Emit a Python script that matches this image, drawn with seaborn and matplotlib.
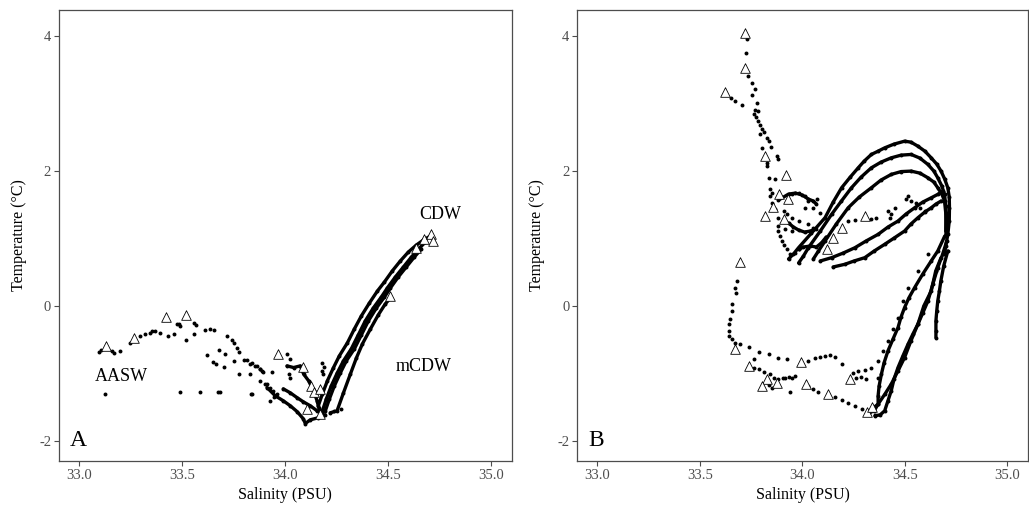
import matplotlib
matplotlib.use("Agg")
import matplotlib.pyplot as plt
import seaborn as sns
import pandas as pd

# ---------------- Panel A data (Salinity PSU, Temperature degC) ----------------
A_tri_S = [33.13, 33.267, 33.419, 33.519, 33.963, 34.086, 34.125, 34.141, 34.167, 34.105, 34.167,
           34.510, 34.636, 34.671, 34.707, 34.717]
A_tri_T = [-0.59, -0.47, -0.17, -0.14, -0.72, -0.90, -1.19, -1.27, -1.23, -1.53, -1.60,
           0.15, 0.86, 0.99, 1.06, 0.97]

A_sparse = [(33.094, -0.677), (33.105, -0.656), (33.159, -0.667), (33.167, -0.70), (33.196, -0.667),
            (33.248, -0.544), (33.353, -0.370), (33.393, -0.404), (33.429, -0.44), (33.458, -0.42),
            (33.555, -0.247), (33.568, -0.281), (33.555, -0.419), (33.519, -0.508), (33.612, -0.36),
            (33.636, -0.345), (33.655, -0.36), (33.717, -0.444), (33.741, -0.508), (33.752, -0.544),
            (33.766, -0.618), (33.773, -0.677), (33.798, -0.804), (33.830, -0.855), (33.854, -0.893),
            (33.879, -0.938), (33.892, -0.973), (33.935, -0.973), (33.911, -1.151), (33.927, -1.22),
            (33.940, -1.259), (33.960, -1.308), (33.620, -0.726), (33.649, -0.83), (33.665, -0.855),
            (33.676, -0.656), (33.709, -0.716), (33.704, -0.904), (33.749, -0.815), (33.773, -1.003),
            (33.830, -1.003), (33.879, -1.111), (33.903, -1.16), (33.838, -1.308), (33.124, -1.308),
            (33.487, -1.284), (33.587, -1.27), (33.671, -1.27), (33.681, -1.284), (34.008, -0.716),
            (34.024, -0.79), (33.833, -1.30), (33.296, -0.444), (33.320, -0.422), (33.345, -0.40),
            (33.369, -0.378), (33.474, -0.271), (33.482, -0.262), (33.490, -0.296), (33.814, -0.804),
            (33.838, -0.849), (33.863, -0.893), (33.879, -0.929), (33.887, -0.963), (34.178, -0.84),
            (34.186, -0.904), (34.178, -0.963), (34.184, -1.012), (33.943, -1.358), (33.927, -1.407),
            (34.024, -1.062), (34.016, -1.012), (34.238, -1.556), (34.272, -1.526)]

A_L1 = [(33.911, -1.210), (33.951, -1.333), (33.990, -1.407), (34.024, -1.481), (34.058, -1.570),
        (34.087, -1.674), (34.097, -1.744), (34.121, -1.689), (34.160, -1.659), (34.194, -1.615)]
A_L2 = [(33.990, -1.230), (34.024, -1.289), (34.058, -1.363), (34.087, -1.422), (34.121, -1.481),
        (34.154, -1.556), (34.180, -1.585)]
A_L3 = [(34.008, -0.889), (34.040, -0.914), (34.073, -0.889), (34.089, -1.012), (34.113, -1.111),
        (34.137, -1.259), (34.154, -1.407), (34.162, -1.507), (34.178, -1.604)]
A_R1 = [(34.194, -1.556), (34.214, -1.378), (34.238, -1.185), (34.267, -0.993), (34.296, -0.815),
        (34.335, -0.637), (34.369, -0.430), (34.403, -0.222), (34.442, -0.030), (34.481, 0.133),
        (34.510, 0.267), (34.548, 0.430), (34.587, 0.578), (34.626, 0.726), (34.660, 0.844)]
A_R2 = [(34.180, -1.556), (34.199, -1.378), (34.223, -1.185), (34.252, -0.993), (34.282, -0.815),
        (34.320, -0.637), (34.354, -0.430), (34.388, -0.222), (34.427, -0.030), (34.466, 0.133),
        (34.495, 0.267), (34.534, 0.430), (34.573, 0.578), (34.612, 0.726), (34.646, 0.844),
        (34.680, 0.948)]
A_R3 = [(34.160, -1.481), (34.180, -1.304), (34.204, -1.111), (34.233, -0.919), (34.262, -0.741),
        (34.301, -0.548), (34.335, -0.341), (34.369, -0.148), (34.408, 0.044), (34.447, 0.222),
        (34.481, 0.356), (34.519, 0.519), (34.558, 0.667), (34.597, 0.800), (34.636, 0.904),
        (34.670, 0.978), (34.704, 1.037)]
A_R4 = [(34.218, -1.585), (34.251, -1.556), (34.282, -1.289), (34.316, -1.007), (34.345, -0.770),
        (34.374, -0.563), (34.413, -0.341), (34.451, -0.133), (34.485, 0.030), (34.510, 0.119)]

# ---------------- Panel B data ----------------
B_tri_S = [33.722, 33.722, 33.621, 33.819, 33.919, 33.887, 33.929, 33.854, 33.819, 33.908, 34.304,
           34.194, 34.150, 34.118, 33.693, 33.673, 33.741, 33.827, 33.802, 33.875, 33.992, 34.016,
           34.123, 34.231, 34.317, 34.340]
B_tri_T = [4.049, 3.530, 3.175, 2.222, 1.941, 1.664, 1.585, 1.467, 1.333, 1.284, 1.333,
           1.160, 1.003, 0.840, 0.652, -0.641, -0.893, -1.077, -1.185, -1.136, -0.825, -1.160,
           -1.308, -1.077, -1.566, -1.492]

B_sparse = [(33.730, 3.966), (33.725, 3.753), (33.734, 3.407), (33.754, 3.308), (33.770, 3.225),
            (33.754, 3.136), (33.778, 3.012), (33.770, 2.914), (33.783, 2.889), (33.762, 2.840),
            (33.772, 2.800), (33.782, 2.741), (33.791, 2.681), (33.801, 2.622), (33.811, 2.578),
            (33.795, 2.544), (33.827, 2.493), (33.835, 2.444), (33.802, 2.345), (33.848, 2.356),
            (33.875, 2.222), (33.883, 2.173), (33.827, 2.123), (33.827, 2.074), (33.835, 1.901),
            (33.867, 1.877), (33.843, 1.729), (33.851, 1.679), (33.843, 1.630), (33.851, 1.530),
            (33.867, 1.433), (33.883, 1.308), (33.883, 1.185), (33.883, 1.111), (33.891, 1.037),
            (33.898, 0.963), (33.908, 0.904), (33.924, 0.840), (33.940, 0.775), (33.965, 0.790),
            (33.981, 0.840), (33.649, 3.086), (33.673, 3.047), (33.705, 2.988),
            (33.948, 1.664), (33.981, 1.679), (34.013, 1.630), (34.029, 1.556), (34.069, 1.581),
            (34.013, 1.456), (34.053, 1.447), (34.086, 1.382), (33.948, 1.308), (33.981, 1.259),
            (34.029, 1.210), (34.053, 1.160), (33.916, 1.136), (33.948, 1.111), (33.908, 1.407),
            (33.924, 1.358),
            (34.417, 1.407), (34.433, 1.358), (34.449, 1.456), (34.425, 1.308), (34.515, 1.630),
            (34.530, 1.556), (34.555, 1.530), (34.571, 1.456), (34.506, 1.581), (34.597, 1.407),
            (34.223, 1.259), (34.256, 1.270), (34.336, 1.284), (34.361, 1.308),
            (33.681, 0.370), (33.673, 0.271), (33.675, 0.193), (33.657, 0.025), (33.657, -0.074),
            (33.646, -0.193), (33.641, -0.271), (33.641, -0.370), (33.641, -0.444), (33.657, -0.493),
            (33.673, -0.544), (33.697, -0.567), (33.741, -0.607),
            (33.762, -0.790), (33.786, -0.681), (33.835, -0.716), (33.879, -0.770), (33.924, -0.790),
            (33.762, -0.914), (33.786, -0.938), (33.811, -0.973), (33.843, -1.003), (33.859, -1.062),
            (33.883, -1.086), (33.903, -1.067), (33.916, -1.062), (33.932, -1.052), (33.948, -1.071),
            (33.965, -1.037), (33.851, -1.210), (33.940, -1.284), (33.826, -1.126), (33.835, -1.170),
            (34.029, -1.185), (34.053, -1.234), (34.078, -1.270), (34.126, -1.308), (34.159, -1.358),
            (34.191, -1.397), (34.223, -1.447), (34.256, -1.481), (34.288, -1.530), (34.320, -1.581),
            (34.353, -1.615),
            (34.029, -0.815), (34.061, -0.775), (34.086, -0.756), (34.110, -0.741), (34.134, -0.730),
            (34.159, -0.756), (34.191, -0.864),
            (34.262, -1.067), (34.286, -1.052), (34.312, -1.086), (34.369, -1.062),
            (34.612, 0.766), (34.563, 0.519), (34.515, 0.271), (34.490, 0.074), (34.466, -0.173),
            (34.442, -0.341), (34.417, -0.519), (34.393, -0.667), (34.369, -0.815), (34.336, -0.914),
            (34.304, -0.953), (34.272, -0.963), (34.248, -0.988)]

B_O1 = [(33.932, 0.696), (33.956, 0.770), (33.981, 0.864), (34.044, 1.081), (34.110, 1.308),
        (34.150, 1.541), (34.191, 1.753), (34.233, 1.911), (34.272, 2.049), (34.301, 2.148),
        (34.336, 2.247), (34.369, 2.296), (34.401, 2.345), (34.446, 2.400), (34.498, 2.444),
        (34.529, 2.430), (34.563, 2.370), (34.597, 2.296), (34.628, 2.197), (34.655, 2.104),
        (34.676, 2.000), (34.694, 1.881), (34.709, 1.753), (34.716, 1.615), (34.717, 1.456),
        (34.716, 1.259), (34.709, 1.062), (34.699, 0.889), (34.693, 0.766)]
B_O2 = [(33.981, 0.637), (34.005, 0.741), (34.029, 0.864), (34.087, 1.111), (34.142, 1.358),
        (34.190, 1.556), (34.239, 1.753), (34.286, 1.911), (34.336, 2.049), (34.383, 2.133),
        (34.433, 2.197), (34.481, 2.237), (34.530, 2.247), (34.573, 2.193), (34.612, 2.099),
        (34.641, 2.000), (34.660, 1.901), (34.680, 1.778), (34.693, 1.655), (34.699, 1.481),
        (34.704, 1.259), (34.699, 1.037)]
B_O3 = [(34.053, 0.696), (34.078, 0.815), (34.110, 0.963), (34.165, 1.215), (34.223, 1.456),
        (34.277, 1.615), (34.336, 1.753), (34.383, 1.867), (34.433, 1.951), (34.481, 1.993),
        (34.530, 2.000), (34.573, 1.970), (34.612, 1.901), (34.641, 1.837), (34.660, 1.753),
        (34.680, 1.659), (34.693, 1.556), (34.699, 1.378), (34.699, 1.111)]
B_L4 = [(34.087, 0.667), (34.142, 0.716), (34.199, 0.785), (34.256, 0.864), (34.310, 0.963),
        (34.369, 1.062), (34.417, 1.170), (34.466, 1.259), (34.505, 1.363), (34.547, 1.456),
        (34.587, 1.541), (34.628, 1.604), (34.660, 1.655), (34.684, 1.704)]
B_L5 = [(34.150, 0.578), (34.207, 0.618), (34.252, 0.667), (34.304, 0.716), (34.350, 0.815),
        (34.401, 0.914), (34.447, 1.007), (34.498, 1.111), (34.529, 1.215), (34.563, 1.308),
        (34.597, 1.393), (34.628, 1.456), (34.651, 1.511), (34.676, 1.556)]
B_C1 = [(33.883, 1.570), (33.932, 1.659), (33.966, 1.674), (34.000, 1.644), (34.029, 1.585),
        (34.053, 1.556), (34.068, 1.511)]
B_C2 = [(33.932, 1.230), (33.956, 1.170), (33.981, 1.126), (34.010, 1.096), (34.039, 1.111),
        (34.068, 1.141)]
B_C3 = [(33.981, 0.840), (34.005, 0.874), (34.039, 0.889), (34.068, 0.874), (34.092, 0.933),
        (34.116, 1.022)]
B_D1 = [(34.709, 0.815), (34.689, 0.593), (34.675, 0.370), (34.668, 0.222), (34.660, 0.074),
        (34.655, -0.074), (34.651, -0.222), (34.651, -0.370), (34.651, -0.470)]
B_D2 = [(34.704, 0.963), (34.684, 0.770), (34.660, 0.568), (34.636, 0.326), (34.612, 0.074),
        (34.587, -0.104), (34.563, -0.271), (34.539, -0.415), (34.515, -0.567), (34.490, -0.741),
        (34.466, -0.914), (34.447, -1.081), (34.433, -1.259), (34.417, -1.407), (34.401, -1.556),
        (34.379, -1.615), (34.354, -1.630)]
B_D3 = [(34.694, 1.037), (34.660, 0.815), (34.628, 0.667), (34.587, 0.474), (34.547, 0.271),
        (34.519, 0.119), (34.498, -0.025), (34.481, -0.163), (34.466, -0.321), (34.442, -0.489),
        (34.417, -0.667), (34.398, -0.844), (34.385, -1.012), (34.374, -1.185), (34.369, -1.333),
        (34.369, -1.456), (34.350, -1.556), (34.325, -1.585)]
B_D4 = [(34.676, 0.716), (34.650, 0.519), (34.628, 0.222), (34.592, 0.0), (34.563, -0.271),
        (34.529, -0.519), (34.498, -0.766), (34.466, -0.963), (34.433, -1.160), (34.403, -1.304),
        (34.369, -1.456), (34.340, -1.526)]

x_ticks = [33.0, 33.5, 34.0, 34.5, 35.0]
y_ticks = [-2, 0, 2, 4]
x_label = "Salinity (PSU)"
y_label = "Temperature (°C)"

# ---------------- build tables ----------------
def lines_df(profiles):
    rows = []
    for name, pts in profiles.items():
        for i, (s, t) in enumerate(pts):
            rows.append({"profile": name, "order": i, "S": s, "T": t})
    return pd.DataFrame(rows)

A_lines = lines_df({"L1": A_L1, "L2": A_L2, "L3": A_L3, "R1": A_R1, "R2": A_R2, "R3": A_R3, "R4": A_R4})
B_lines = lines_df({"O1": B_O1, "O2": B_O2, "O3": B_O3, "L4": B_L4, "L5": B_L5, "C1": B_C1,
                    "C2": B_C2, "C3": B_C3, "D1": B_D1, "D2": B_D2, "D3": B_D3, "D4": B_D4})
A_dots = pd.DataFrame(A_sparse, columns=["S", "T"])
B_dots = pd.DataFrame(B_sparse, columns=["S", "T"])
A_tri = pd.DataFrame({"S": A_tri_S, "T": A_tri_T})
B_tri = pd.DataFrame({"S": B_tri_S, "T": B_tri_T})

sns.set_theme(style="white")
plt.rcParams["font.family"] = ["Liberation Serif", "DejaVu Serif"]

fig = plt.figure(figsize=(10.29, 5.13), dpi=100)
axA = fig.add_axes([0.0570, 0.1014, 0.4406, 0.8791])
axB = fig.add_axes([0.5607, 0.1014, 0.4383, 0.8791])

frame_col = "#4d4d4d"

def draw(ax, lines, dots, tri):
    sns.lineplot(data=lines, x="S", y="T", units="profile", estimator=None, sort=False,
                 color="black", lw=2.4, ax=ax, legend=False)
    sns.scatterplot(data=lines, x="S", y="T", color="black", s=8, linewidth=0, ax=ax, legend=False)
    sns.scatterplot(data=dots, x="S", y="T", color="black", s=8, linewidth=0, ax=ax, legend=False)
    sns.scatterplot(data=tri, x="S", y="T", marker="^", s=48, facecolor="white",
                    edgecolor="black", linewidth=0.6, ax=ax, legend=False, zorder=5)
    ax.set_xlim(32.90, 35.10)
    ax.set_ylim(-2.30, 4.39)
    ax.set_xticks(x_ticks)
    ax.set_xticklabels([f"{v:.1f}" for v in x_ticks])
    ax.set_yticks(y_ticks)
    ax.set_yticklabels([str(v) for v in y_ticks])
    ax.set_xlabel(x_label, fontsize=11.5, color="black", labelpad=4)
    ax.set_ylabel(y_label, fontsize=11.5, color="black", labelpad=9)
    ax.tick_params(axis="both", which="major", direction="out", length=3.5, width=0.8,
                   color=frame_col, labelcolor=frame_col, labelsize=10.5, pad=2,
                   bottom=True, left=True)
    for sp in ax.spines.values():
        sp.set_color(frame_col)
        sp.set_linewidth(0.9)
    ax.grid(False)

draw(axA, A_lines, A_dots, A_tri)
draw(axB, B_lines, B_dots, B_tri)

axA.text(34.752, 1.36, "CDW", fontsize=13, ha="center", va="center", color="black")
axA.text(34.670, -0.90, "mCDW", fontsize=13, ha="center", va="center", color="black")
axA.text(33.204, -1.05, "AASW", fontsize=13, ha="center", va="center", color="black")
axA.text(32.955, -2.0, "A", fontsize=17, ha="left", va="center", color="black")
axB.text(32.955, -2.0, "B", fontsize=17, ha="left", va="center", color="black")

fig.savefig("out.png", dpi=100)
